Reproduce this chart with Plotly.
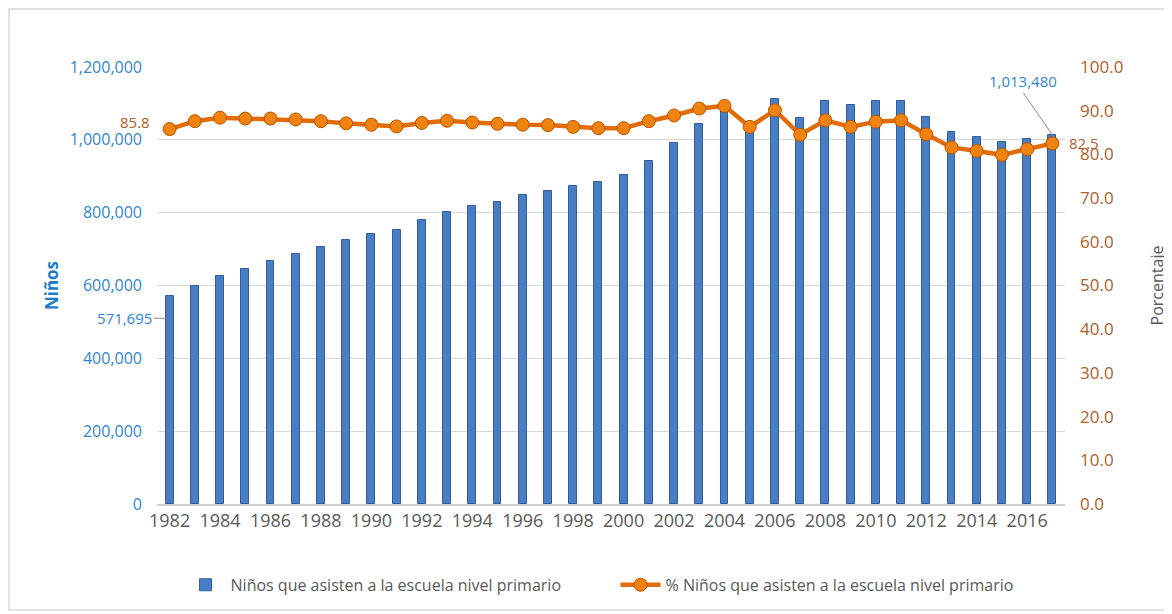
import plotly.graph_objects as go

years = list(range(1982, 2018))
ninos = [571695, 598600, 627000, 646000, 668000, 686500, 705700, 725000, 741400, 752400,
         779000, 801000, 817500, 830000, 847700, 860000, 874000, 885000, 904000, 942000,
         991000, 1042700, 1100000, 1040000, 1111000, 1059000, 1106000, 1095000, 1108000, 1108000,
         1062000, 1021500, 1008000, 994000, 1002000, 1013480]
porcentaje = [85.8, 87.6, 88.4, 88.2, 88.2, 88.0, 87.6, 87.1, 86.8, 86.4,
              87.2, 87.7, 87.3, 87.0, 86.8, 86.7, 86.3, 86.0, 86.0, 87.6,
              88.9, 90.5, 91.1, 86.3, 90.1, 84.5, 87.8, 86.3, 87.5, 87.8,
              84.6, 81.6, 80.8, 79.9, 81.2, 82.5]
x_ticks = list(range(1982, 2017, 2))

name_bar = "Niños que asisten a la escuela nivel primario"
name_line = "% Niños que asisten a la escuela nivel primario"

BLUE_TXT = "#2F86D0"
BROWN_TXT = "#B0602A"
GRAY_TXT = "#595959"
FONT = "Open Sans"

fig = go.Figure()
fig.add_trace(go.Bar(
    x=years, y=ninos, name=name_bar, width=0.31,
    marker=dict(color="#4A7EC4", line=dict(color="#2F5E9E", width=1)),
    yaxis="y",
))
fig.add_trace(go.Scatter(
    x=years, y=porcentaje, name=name_line, mode="lines+markers",
    line=dict(color="#E36C0A", width=4.5),
    marker=dict(size=13, color="#F0820F", line=dict(color="#B85500", width=1)),
    yaxis="y2",
))

fig.update_layout(
    width=1164, height=606,
    margin=dict(l=149, r=107, t=59, b=110),
    paper_bgcolor="white", plot_bgcolor="white",
    font=dict(family=FONT, size=15, color=GRAY_TXT),
    showlegend=True,
    legend=dict(orientation="h", x=0.505, xanchor="center", y=-0.185, yanchor="middle",
                font=dict(size=16, color=GRAY_TXT), itemwidth=40,
                entrywidth=380, entrywidthmode="pixels",
                traceorder="normal"),
    bargap=0,
    xaxis=dict(range=[1981.5, 2017.5], tickmode="array", tickvals=x_ticks,
               ticktext=[str(v) for v in x_ticks], showgrid=False, automargin=False,
               showline=True, linecolor="#D0D0D0", linewidth=1.5,
               tickfont=dict(size=18, color=GRAY_TXT), ticks="", zeroline=False),
    yaxis=dict(range=[0, 1200000], dtick=200000, tickformat=",", showgrid=True,
               gridcolor="#D9D9D9", gridwidth=1.2, zeroline=False, automargin=False,
               tickfont=dict(size=16, color=BLUE_TXT), ticks="", ticklabelstandoff=14,
               title=dict(text="<b>Niños</b>", font=dict(size=17, color="#1F7CC8"), standoff=6)),
    yaxis2=dict(range=[0, 100], dtick=10, tickformat=".1f", overlaying="y", side="right",
                showgrid=False, zeroline=False, ticks="", automargin=False,
                tickfont=dict(size=17, color=BROWN_TXT), ticklabelstandoff=14,
                title=dict(text="Porcentaje", font=dict(size=16, color=GRAY_TXT), standoff=29)),
)

# data labels
fig.add_annotation(x=years[0], y=porcentaje[0], yref="y2", text="85.8", showarrow=False,
                   xshift=-35, yshift=7, font=dict(size=15, color=BROWN_TXT))
fig.add_annotation(x=years[-1], y=porcentaje[-1], yref="y2", text="82.5", showarrow=False,
                   xshift=32, yshift=0, font=dict(size=15, color=BROWN_TXT))
fig.add_annotation(x=years[-1], y=ninos[-1], yref="y", text="1,013,480", showarrow=True,
                   arrowhead=0, arrowwidth=1, arrowcolor="#8C8C8C", ax=-29, ay=-42,
                   xanchor="center", yanchor="bottom",
                   font=dict(size=15, color=BLUE_TXT))
fig.add_annotation(x=1981.85, y=510000, yref="y", text="571,695", showarrow=True,
                   arrowhead=0, arrowwidth=1, arrowcolor="#8C8C8C", ax=-12, ay=0,
                   xanchor="right", yanchor="middle",
                   font=dict(size=15, color=BLUE_TXT))

# chart border
fig.add_shape(type="rect", xref="paper", yref="paper",
              x0=-0.163, x1=1.110, y0=-0.2426, y1=1.133,
              line=dict(color="#D9D9D9", width=1.5))

fig.write_html("out.html")
